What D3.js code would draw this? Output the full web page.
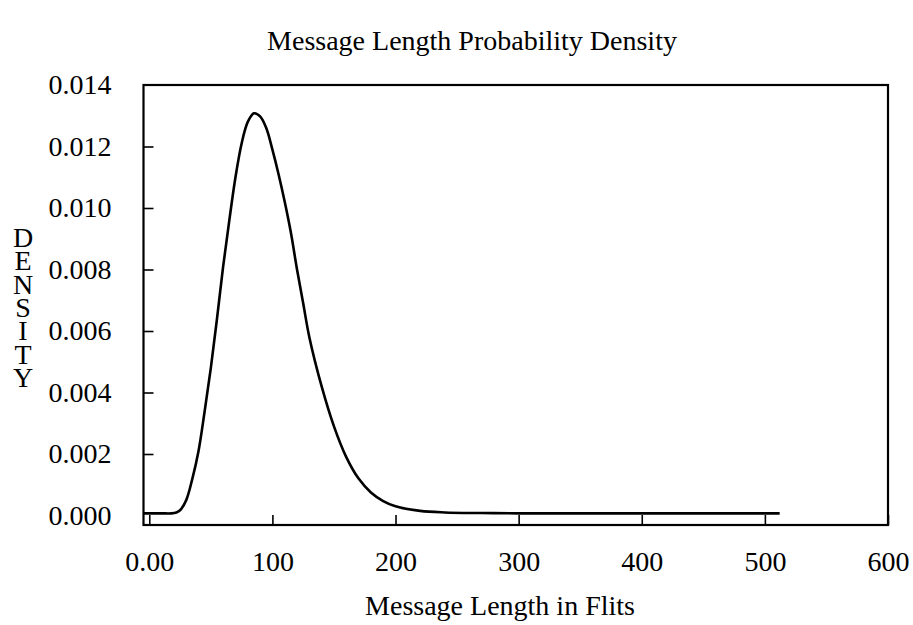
<!DOCTYPE html>
<html><head><meta charset="utf-8">
<script src="https://cdn.jsdelivr.net/npm/d3@7"></script>
<style>body{margin:0;background:#fff}svg{display:block}</style>
</head><body>
<svg id="chart" width="913" height="625"></svg>
<script>
const chartTitle = "Message Length Probability Density";
const xTitle = "Message Length in Flits";
const yTitle = "DENSITY";
const xTicks = [0, 100, 200, 300, 400, 500, 600];
const xTickLabels = ["0.00", "100", "200", "300", "400", "500", "600"];
const yTicks = [0, 0.002, 0.004, 0.006, 0.008, 0.010, 0.012, 0.014];
const yTickLabels = ["0.000", "0.002", "0.004", "0.006", "0.008", "0.010", "0.012", "0.014"];
const lengths = [-4.7, 0, 10, 18, 22, 25, 30, 35, 40, 45, 50, 55, 60, 65, 70, 75, 80, 85, 90, 95, 100, 105, 110, 115, 120, 125, 130, 140, 150, 160, 170, 180, 190, 200, 220, 240, 270, 300, 400, 512];
const density = [0.00007, 0.00007, 0.00007, 0.00007, 0.0001, 0.00017, 0.0005, 0.0012, 0.0021, 0.0034, 0.0048, 0.0064, 0.0081, 0.0096, 0.0110, 0.0121, 0.0128, 0.01308, 0.01298, 0.0126, 0.0119, 0.0111, 0.0102, 0.0092, 0.0080, 0.0069, 0.0058, 0.0042, 0.0029, 0.0019, 0.0012, 0.00075, 0.00047, 0.0003, 0.00015, 0.0001, 0.00008, 0.00007, 0.00007, 0.00007];

const svg = d3.select("#chart");
const font = "'Liberation Serif', 'Times New Roman', serif";
const frameL = 143.5, frameR = 888, frameT = 85, frameB = 525;

const x = d3.scaleLinear().domain([-4.7, 600]).range([frameL, frameR]);
const y = d3.scaleLinear().domain([0, 0.014]).range([515.5, 85]);

// frame
svg.append("rect").attr("x", frameL).attr("y", frameT).attr("width", frameR - frameL).attr("height", frameB - frameT)
  .attr("fill", "none").attr("stroke", "#000").attr("stroke-width", 2.2);

// x axis ticks (inside) + labels
const xAxis = d3.axisBottom(x).tickValues(xTicks).tickSizeInner(-10).tickSizeOuter(0)
  .tickPadding(26).tickFormat((d, i) => xTickLabels[i]);
const gx = svg.append("g").attr("transform", `translate(0,${frameB})`).call(xAxis);
gx.select(".domain").remove();
gx.selectAll("line").attr("stroke", "#000").attr("stroke-width", 1.6);
gx.selectAll("text").attr("font-family", font).attr("font-size", 28).attr("fill", "#000");

// y axis ticks (inside) + labels
const yAxis = d3.axisLeft(y).tickValues(yTicks).tickSizeInner(-10).tickSizeOuter(0)
  .tickPadding(32).tickFormat((d, i) => yTickLabels[i]);
const gy = svg.append("g").attr("transform", `translate(${frameL},0)`).call(yAxis);
gy.select(".domain").remove();
gy.selectAll("line").attr("stroke", "#000").attr("stroke-width", 1.6)
  .attr("display", d => (d === 0 || d === 0.014) ? "none" : null);
gy.selectAll("text").attr("font-family", font).attr("font-size", 28).attr("fill", "#000");

// curve
const pts = lengths.map((l, i) => [l, density[i]]);
svg.append("path").datum(pts)
  .attr("fill", "none").attr("stroke", "#000").attr("stroke-width", 2.6)
  .attr("stroke-linejoin", "round")
  .attr("d", d3.line().x(d => x(d[0])).y(d => y(d[1])).curve(d3.curveCatmullRom.alpha(0.5)));

// titles
svg.append("text").attr("x", 472).attr("y", 50).attr("text-anchor", "middle")
  .attr("font-family", font).attr("font-size", 28).text(chartTitle);
svg.append("text").attr("x", 500).attr("y", 615).attr("text-anchor", "middle")
  .attr("font-family", font).attr("font-size", 28).text(xTitle);

// vertical stacked y label (single text, upright vertical writing)
svg.append("text")
  .attr("x", 23).attr("y", 222)
  .attr("font-family", font).attr("font-size", 28)
  .attr("writing-mode", "vertical-rl")
  .attr("letter-spacing", "-7.7px")
  .style("text-orientation", "upright")
  .text(yTitle);
</script>
</body></html>
